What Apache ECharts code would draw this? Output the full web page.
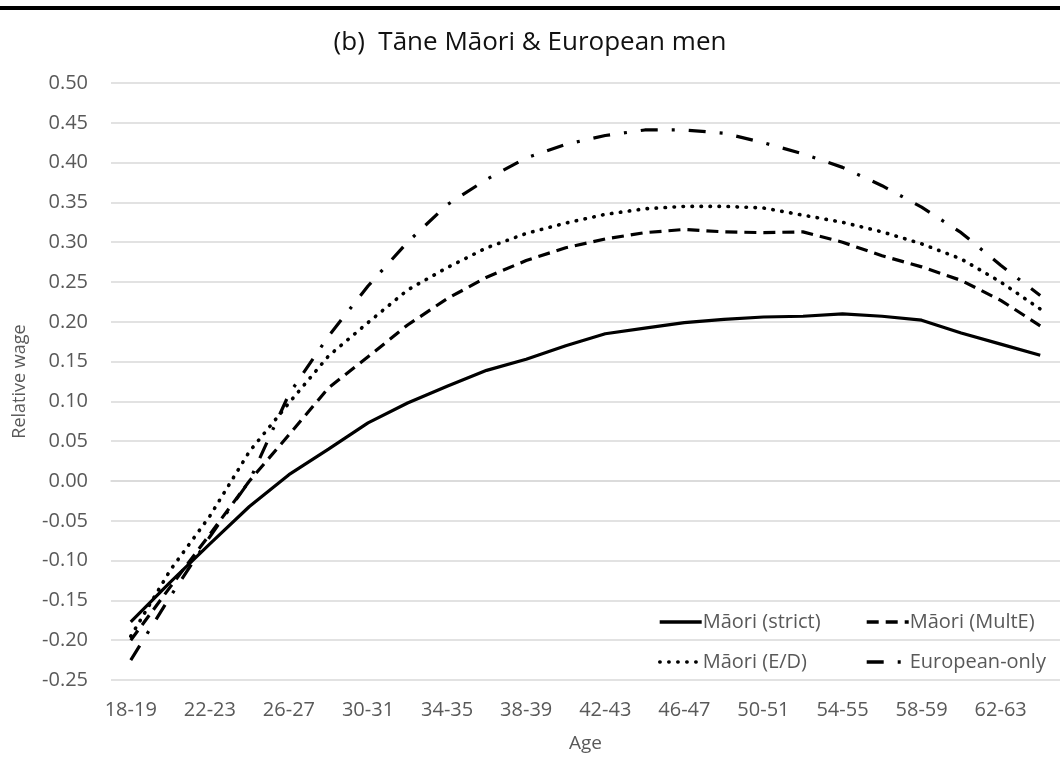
<!DOCTYPE html>
<html>
<head>
<meta charset="utf-8">
<script src="https://cdn.jsdelivr.net/npm/echarts@6/dist/echarts.min.js"></script>
<style>
  html, body { margin: 0; padding: 0; background: #fff; }
  #chart { width: 1060px; height: 758px; }
</style>
</head>
<body>
<div id="chart"></div>
<script>
  const ages = ['18-19', '20-21', '22-23', '24-25', '26-27', '28-29', '30-31', '32-33',
    '34-35', '36-37', '38-39', '40-41', '42-43', '44-45', '46-47', '48-49',
    '50-51', '52-53', '54-55', '56-57', '58-59', '60-61', '62-63', '64-65'];

  const maoriStrict = [-0.177, -0.127, -0.079, -0.032, 0.008, 0.040, 0.073, 0.098,
    0.119, 0.139, 0.153, 0.170, 0.185, 0.192, 0.199, 0.203,
    0.206, 0.207, 0.210, 0.207, 0.202, 0.186, 0.172, 0.158];
  const maoriMultE = [-0.200, -0.133, -0.067, 0.000, 0.058, 0.117, 0.156, 0.196,
    0.229, 0.256, 0.277, 0.293, 0.304, 0.312, 0.316, 0.313,
    0.312, 0.313, 0.300, 0.283, 0.269, 0.252, 0.227, 0.195];
  const maoriED = [-0.195, -0.112, -0.044, 0.037, 0.098, 0.157, 0.199, 0.240,
    0.268, 0.293, 0.311, 0.324, 0.335, 0.342, 0.345, 0.345,
    0.343, 0.334, 0.325, 0.313, 0.298, 0.279, 0.250, 0.216];
  const europeanOnly = [-0.225, -0.145, -0.070, 0.000, 0.109, 0.182, 0.245, 0.300,
    0.347, 0.379, 0.406, 0.423, 0.434, 0.441, 0.441, 0.437,
    0.425, 0.411, 0.394, 0.371, 0.344, 0.312, 0.271, 0.233];

  const seriesNames = ['Māori (strict)', 'Māori (MultE)', 'Māori (E/D)', 'European-only'];

  const font = 'Open Sans';
  const chart = echarts.init(document.getElementById('chart'), null, { renderer: 'canvas' });

  function lineSeries(name, data, lineStyle) {
    return {
      name: name,
      type: 'line',
      data: data,
      symbol: 'none',
      smooth: false,
      lineStyle: Object.assign({ color: '#000', width: 3.2 }, lineStyle),
      itemStyle: { color: '#000' }
    };
  }

  // two vertical legends = two columns, like the excel legend
  const legendBase = {
    orient: 'vertical',
    top: 612,
    padding: 0,
    itemWidth: 42,
    itemHeight: 14,
    itemGap: 20,
    selectedMode: false,
    itemStyle: { opacity: 0 },
    lineStyle: { width: 3.4 },
    textStyle: { color: '#595959', fontSize: 20, fontFamily: font, lineHeight: 20, padding: [0, 0, 0, -4] }
  };

  const option = {
    backgroundColor: '#fff',
    animation: false,
    title: {
      text: '(b)  Tāne Māori & European men',
      left: 'center',
      top: 25,
      textStyle: { color: '#111', fontSize: 26, fontWeight: 'normal', fontFamily: font }
    },
    graphic: [{
      type: 'rect',
      shape: { x: 0, y: 6, width: 1060, height: 4 },
      style: { fill: '#000' }
    }],
    legend: [
      Object.assign({}, legendBase, { left: 658, data: [seriesNames[0], seriesNames[2]] }),
      Object.assign({}, legendBase, { left: 865, data: [seriesNames[1], seriesNames[3]] })
    ],
    grid: { left: 111, top: 83, width: 951, height: 597 },
    xAxis: {
      type: 'category',
      data: ages,
      boundaryGap: true,
      name: 'Age',
      nameLocation: 'middle',
      nameGap: 54,
      nameTextStyle: { color: '#595959', fontSize: 19, fontFamily: font },
      axisLine: { show: true, lineStyle: { color: '#d9d9d9', width: 1.5 } },
      axisTick: { show: false },
      axisLabel: { interval: 1, margin: 20, color: '#595959', fontSize: 20, fontFamily: font }
    },
    yAxis: {
      type: 'value',
      min: -0.25,
      max: 0.5,
      interval: 0.05,
      name: 'Relative wage',
      nameLocation: 'middle',
      nameGap: 82,
      nameTextStyle: { color: '#595959', fontSize: 18, fontFamily: font },
      axisLine: { show: false },
      axisTick: { show: false },
      axisLabel: {
        margin: 23,
        color: '#595959',
        fontSize: 20,
        fontFamily: font,
        formatter: function (v) { return v.toFixed(2); }
      },
      splitLine: { lineStyle: { color: '#d9d9d9', width: 1.5 } }
    },
    series: [
      lineSeries(seriesNames[0], maoriStrict, { type: 'solid' }),
      lineSeries(seriesNames[1], maoriMultE, { type: [12, 7] }),
      lineSeries(seriesNames[2], maoriED, { type: [0.5, 8.5], cap: 'round', width: 3.6 }),
      lineSeries(seriesNames[3], europeanOnly, { type: [17, 14, 3, 14] })
    ]
  };

  chart.setOption(option);
</script>
</body>
</html>
